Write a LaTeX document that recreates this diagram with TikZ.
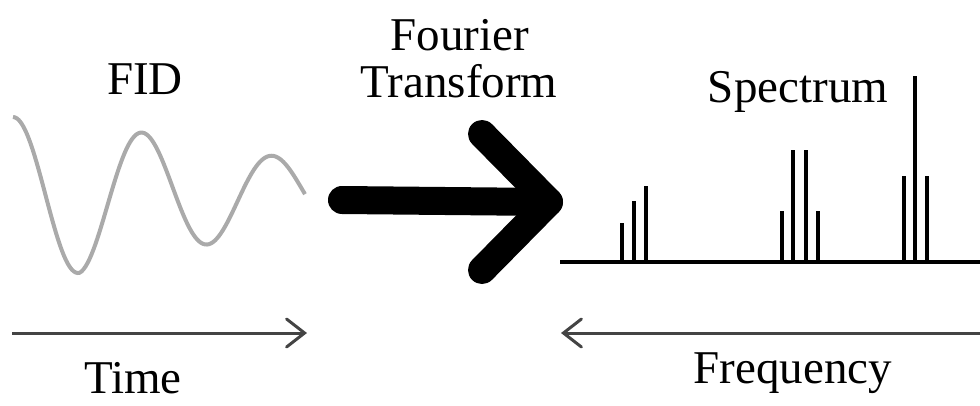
\documentclass[tikz,border=0pt]{standalone}
\usepackage{fontspec}
\setmainfont{Liberation Serif}
\usetikzlibrary{positioning, arrows.meta}
\definecolor{wavecol}{RGB}{170,170,170}
\definecolor{axiscol}{RGB}{68,68,68}

\begin{document}
\begin{tikzpicture}[
			x=1pt, y=-1pt,
			heading/.style={
				font=\fontsize{47}{47}\selectfont,
				anchor=base,
				inner sep=0pt
			},
			wave/.style={
				draw=wavecol,
				line width=4pt
			},
			axisarrow/.style={
				draw=axiscol,
				line width=3pt,
				-{Straight Barb[length=18pt,width=28pt,line cap=round]}
			},
			bigarrow/.style={
				line width=28pt,
				line cap=round,
				line join=round
			},
			peak/.style={
				line width=3.5pt
			}
			]
			\useasboundingbox (0,0) rectangle (980,405);
			% Labels
			\node[heading] (fid) at (145,94) {FID};
			\node[heading] (fourier) at (460,50) {Fourier};
			\node[heading] (transform) at (459,97) {Transform};
			\node[heading] (spectrum) at (798,102) {Spectrum};
			\node[heading] (time) at (133,393) {Time};
			\node[heading] (frequency) at (793,383) {Frequency};
			
			% FID signal
			\draw[wave] plot[domain=13:305, samples=150]
			(\x, {195 - 78*exp(-(max(\x,80)-80)/280)*cos((\x-143)*2.76923)});
			
			% Fourier transform arrow
			\coordinate (ftstart) at (342,200);
			\coordinate (fttip) at (549,202);
			\coordinate (ftupper) at (482,134);
			\coordinate (ftlower) at (482,270);
			\draw[bigarrow] (ftstart) -- (fttip);
			\draw[bigarrow] (ftupper) -- (fttip) -- (ftlower);
			
			% Spectrum
			\coordinate (base0) at (560,262);
			\coordinate (base1) at (980,262);
			\draw[peak] (base0) -- (base1);
			\foreach \px/\py in {622/223, 634/201, 646/186,
				782/211, 793/150, 806/150, 818/211,
				904/176, 915/76, 927/176}
			\draw[peak] (\px,262) -- (\px,\py);
			
			% Axes
			\coordinate (tstart) at (12,333);
			\coordinate (tend) at (307,333);
			\coordinate (fstart) at (980,333);
			\coordinate (fend) at (561,333);
			\draw[axisarrow] (tstart) -- (tend);
			\draw[axisarrow] (fstart) -- (fend);
		\end{tikzpicture}
\end{document}
